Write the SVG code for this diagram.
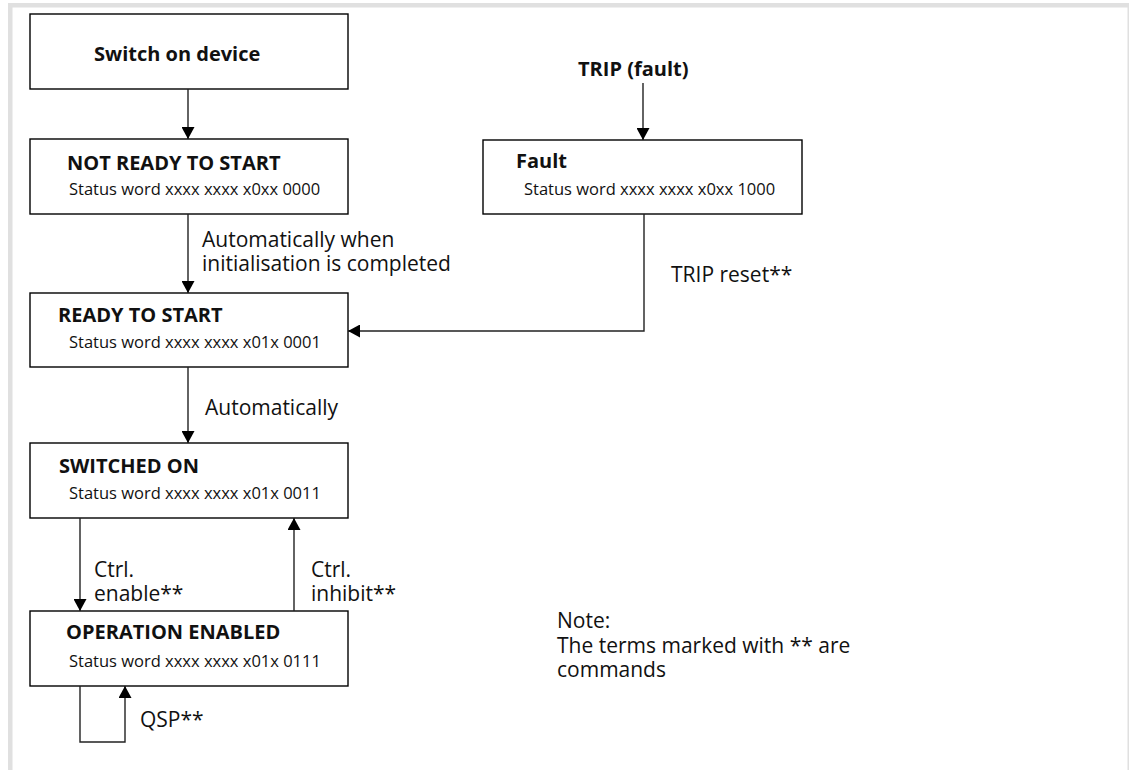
<svg xmlns="http://www.w3.org/2000/svg" width="1129" height="770" viewBox="0 0 1129 770">
<defs>
<marker id="ah" markerUnits="userSpaceOnUse" markerWidth="12" markerHeight="13" viewBox="0 0 12 13" refX="12" refY="6.5" orient="auto">
<path d="M0,0 L12,6.5 L0,13 Z" fill="#000"/>
</marker>
<style>
.box{fill:#fff;stroke:#000;stroke-width:1.4}
.t{font-family:"Open Sans","Liberation Sans",sans-serif;fill:#111}
.ti{font-size:20px;font-weight:bold}
.st{font-size:16.5px}
.lb{font-size:21px}
.c{fill:none;stroke:#222;stroke-width:1.4}
</style>
</defs>
<rect x="0" y="0" width="1129" height="770" fill="#fff"/>
<g id="frame">
<rect x="8" y="3" width="1121" height="4.5" fill="#e0e0e0"/>
<rect x="8" y="3" width="4.5" height="767" fill="#e0e0e0"/>
<rect x="1127.5" y="3" width="1.5" height="767" fill="#e0e0e0"/>
</g>
<g id="switch-on-device">
<rect class="box" x="30" y="14" width="318" height="75"/>
<text class="t ti" x="94" y="61">Switch on device</text>
</g>
<g id="not-ready">
<rect class="box" x="30" y="139" width="318" height="75"/>
<text class="t ti" x="67" y="170">NOT READY TO START</text>
<text class="t st" x="69" y="195">Status word xxxx xxxx x0xx 0000</text>
</g>
<g id="trip-fault">
<text class="t ti" x="578" y="76">TRIP (fault)</text>
</g>
<g id="fault">
<rect class="box" x="483" y="140" width="319" height="74"/>
<text class="t ti" x="516" y="168">Fault</text>
<text class="t st" x="524" y="195">Status word xxxx xxxx x0xx 1000</text>
</g>
<g id="ready">
<rect class="box" x="30" y="293" width="318" height="74"/>
<text class="t ti" x="58" y="322">READY TO START</text>
<text class="t st" x="69" y="348">Status word xxxx xxxx x01x 0001</text>
</g>
<g id="switched-on">
<rect class="box" x="30" y="443" width="318" height="75"/>
<text class="t ti" x="59" y="473">SWITCHED ON</text>
<text class="t st" x="69" y="499">Status word xxxx xxxx x01x 0011</text>
</g>
<g id="operation-enabled">
<rect class="box" x="30" y="611" width="318" height="75"/>
<text class="t ti" x="66" y="639">OPERATION ENABLED</text>
<text class="t st" x="69" y="667">Status word xxxx xxxx x01x 0111</text>
</g>
<g id="note">
<text class="t lb" x="557" y="628">Note:</text>
<text class="t lb" x="557" y="653">The terms marked with ** are</text>
<text class="t lb" x="557" y="677">commands</text>
</g>
<g id="connectors">
<path class="c" d="M188,89 V139" marker-end="url(#ah)"/>
<path class="c" d="M643,83 V140" marker-end="url(#ah)"/>
<path class="c" d="M188,214 V293" marker-end="url(#ah)"/>
<path class="c" d="M644,214 V331 H348" marker-end="url(#ah)"/>
<path class="c" d="M188,367 V443" marker-end="url(#ah)"/>
<path class="c" d="M80,518 V611" marker-end="url(#ah)"/>
<path class="c" d="M294,611 V518" marker-end="url(#ah)"/>
<path class="c" d="M80,686 V742 H125 V686" marker-end="url(#ah)"/>
<text class="t lb" x="202" y="247">Automatically when</text>
<text class="t lb" x="202" y="271">initialisation is completed</text>
<text class="t lb" x="671" y="282">TRIP reset**</text>
<text class="t lb" x="205" y="415">Automatically</text>
<text class="t lb" x="94" y="577">Ctrl.</text>
<text class="t lb" x="94" y="601">enable**</text>
<text class="t lb" x="311" y="577">Ctrl.</text>
<text class="t lb" x="311" y="601">inhibit**</text>
<text class="t lb" x="140" y="727">QSP**</text>
</g>
</svg>
